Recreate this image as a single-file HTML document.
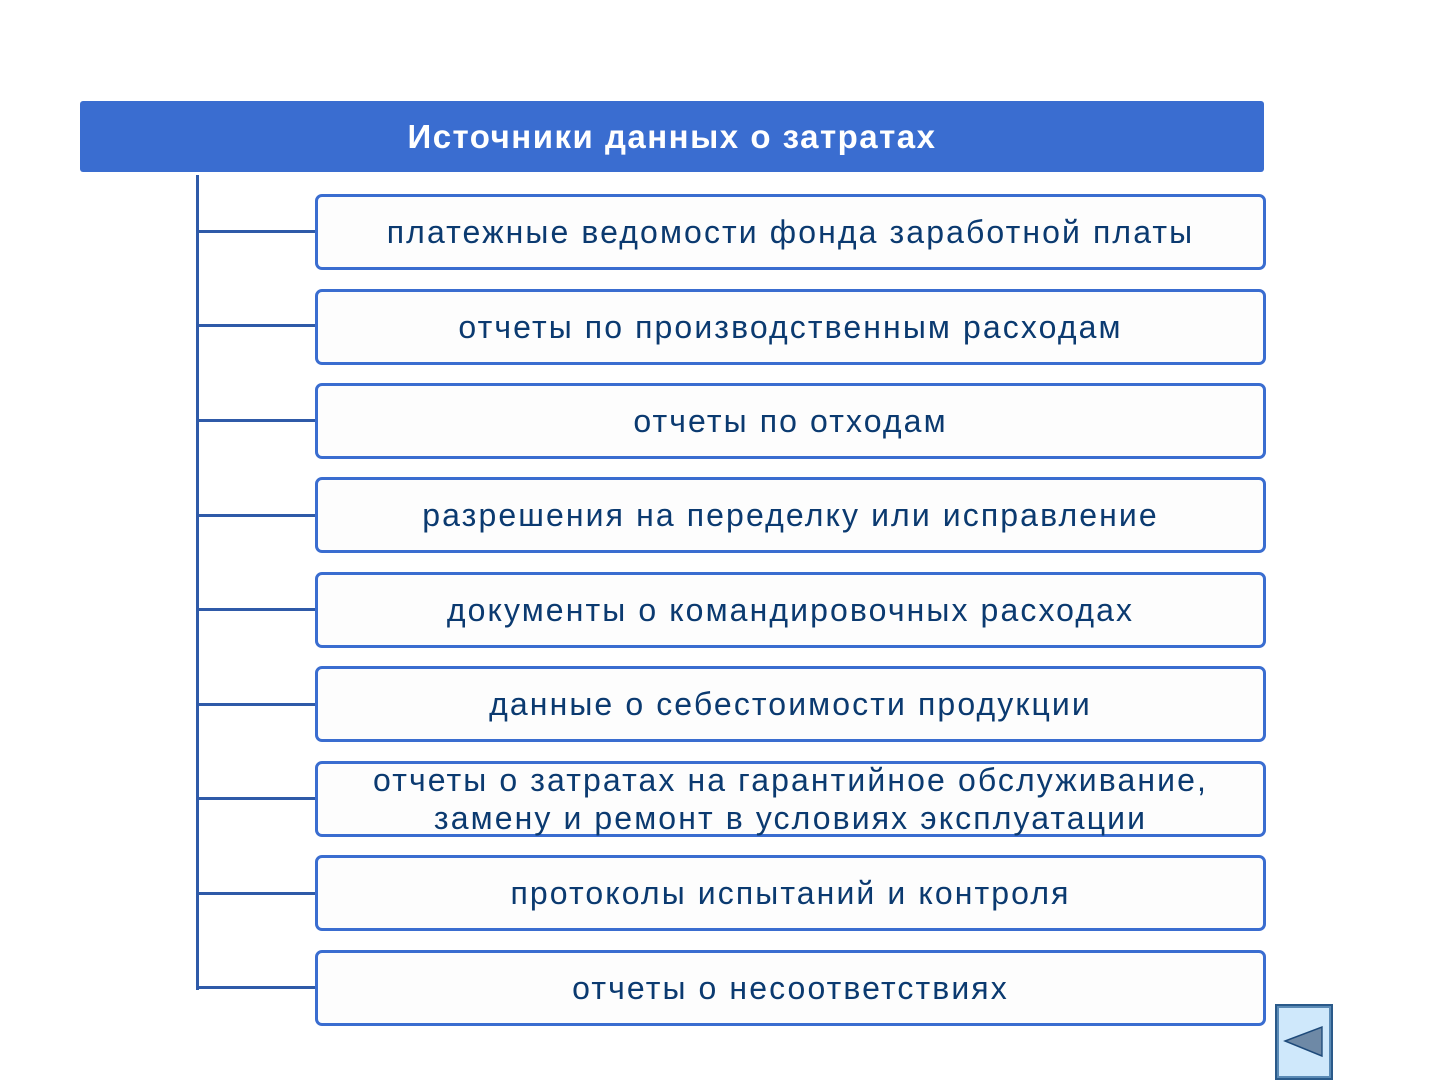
<!DOCTYPE html>
<html><head><meta charset="utf-8"><style>
body{margin:0;width:1440px;height:1080px;background:#fff;position:relative;overflow:hidden;font-family:"Liberation Sans",sans-serif}
.h{position:absolute;left:80px;top:101px;width:1184px;height:71px;background:#3a6dd0;border-radius:3px;color:#fff;font-weight:bold;font-size:33px;line-height:71px;text-align:center;letter-spacing:1.5px}
.v{position:absolute;left:196px;top:175px;width:3px;height:815px;background:#2f5aa8}
.c{position:absolute;left:197px;width:118px;height:3px;background:#2f5aa8}
.b{position:absolute;left:315px;width:945px;height:70px;border:3px solid #3a6dd0;border-radius:7px;background:#fdfdfd;color:#0b3a70;font-size:32px;letter-spacing:2.1px;display:flex;align-items:center;justify-content:center;text-align:center;line-height:38px}
.btn{position:absolute;left:1275px;top:1004px;width:58px;height:76px;background:#cfe8fb;border:2px solid #2a5a8a;box-sizing:border-box}
</style></head><body>
<div class="h">Источники данных о затратах</div>
<div class="v"></div>
<div class="c" style="top:230px"></div>
<div class="c" style="top:324px"></div>
<div class="c" style="top:419px"></div>
<div class="c" style="top:514px"></div>
<div class="c" style="top:608px"></div>
<div class="c" style="top:703px"></div>
<div class="c" style="top:797px"></div>
<div class="c" style="top:892px"></div>
<div class="c" style="top:986px"></div>
<div class="b" style="top:194px">платежные ведомости фонда заработной платы</div>
<div class="b" style="top:289px">отчеты по производственным расходам</div>
<div class="b" style="top:383px">отчеты по отходам</div>
<div class="b" style="top:477px">разрешения на переделку или исправление</div>
<div class="b" style="top:572px">документы о командировочных расходах</div>
<div class="b" style="top:666px">данные о себестоимости продукции</div>
<div class="b" style="top:761px">отчеты о затратах на гарантийное обслуживание,<br>замену и ремонт в условиях эксплуатации</div>
<div class="b" style="top:855px">протоколы испытаний и контроля</div>
<div class="b" style="top:950px">отчеты о несоответствиях</div>
<div class="btn"><svg width="54" height="72" style="position:absolute;left:0;top:0"><rect x="1" y="1" width="52" height="70" fill="none" stroke="#5a8ab5" stroke-width="2"/><polygon points="9,35 50,21 50,50" fill="#6e89a6" stroke="#1e4a7a" stroke-width="1.5" transform="translate(0,0) scale(0.9,1)"/></svg></div>
</body></html>
